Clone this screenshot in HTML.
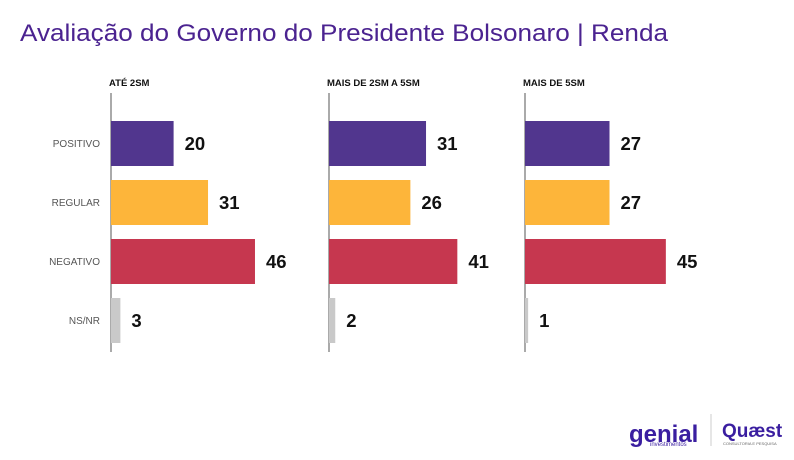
<!DOCTYPE html>
<html><head><meta charset="utf-8"><style>
body{margin:0;background:#fff;width:794px;height:455px;overflow:hidden;font-family:"Liberation Sans",sans-serif}
</style></head><body>
<svg id="c" width="794" height="455">
<text x="20" y="41" font-size="24" fill="#4b2390" textLength="648" lengthAdjust="spacingAndGlyphs">Avaliação do Governo do Presidente Bolsonaro | Renda</text>
<g>
<text x="629" y="442" font-size="24" font-weight="bold" fill="#3a1ea0">genial</text>
<text x="650" y="446" font-size="6" fill="#3a1ea0">investimentos</text>
</g>
<line x1="711" y1="414" x2="711" y2="446" stroke="#ccc"/>
<g>
<text x="722" y="437" font-size="19" font-weight="bold" fill="#3a1ea0">Quæst</text>
<text x="723" y="445" font-size="4" fill="#666">CONSULTORIA E PESQUISA</text>
</g>
</svg>
<script>
const groups=["ATÉ 2SM","MAIS DE 2SM A 5SM","MAIS DE 5SM"];
const categories=["POSITIVO","REGULAR","NEGATIVO","NS/NR"];
const valsAte2=[20,31,46,3];
const vals2a5=[31,26,41,2];
const valsMais5=[27,27,45,1];
const series=[valsAte2,vals2a5,valsMais5];
const colors=["#51368e","#fdb53a","#c6374f","#c9c9c9"];
const svg=document.getElementById('c');
const NS="http://www.w3.org/2000/svg";
const panelX=[111,329,525];
const scale=3.13;
const xS=(p,v)=>panelX[p]+v*scale;
const yS=i=>121+i*59;
function mk(t,a){const e=document.createElementNS(NS,t);for(const k in a)e.setAttribute(k,a[k]);svg.appendChild(e);return e;}
categories.forEach((c,i)=>{
  const t=mk('text',{x:100,y:yS(i)+26,'font-size':10,fill:'#555','text-anchor':'end'});
  t.textContent=c;
  
  
});
groups.forEach((g,p)=>{
  const h=mk('text',{x:panelX[p]-2,y:86,'font-size':9.5,'font-weight':'bold',fill:'#111'});
  h.textContent=g;
  
  
  const ax=mk('line',{x1:panelX[p],x2:panelX[p],y1:93,y2:352,stroke:'#555','stroke-width':1});
  
  
  series[p].forEach((v,i)=>{
    const r=mk('rect',{x:panelX[p],y:yS(i),width:xS(p,v)-panelX[p],height:45,fill:colors[i]});
    
    
    const l=mk('text',{x:xS(p,v)+11,y:yS(i)+29,'font-size':18.5,'font-weight':'bold',fill:'#111'});
    l.textContent=v;
    
    
  });
});
</script>
</body></html>
